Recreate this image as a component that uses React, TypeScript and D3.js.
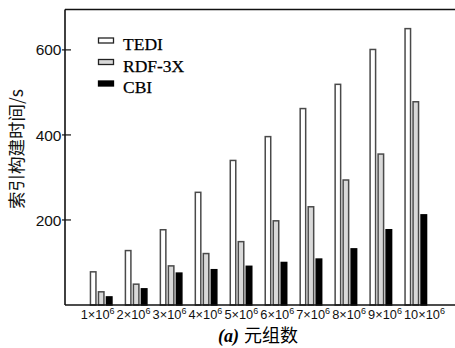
import React from "react";
import * as d3 from "d3";

const categories = ["1", "2", "3", "4", "5", "6", "7", "8", "9", "10"];
const seriesNames = ["TEDI", "RDF-3X", "CBI"];
const tedi = [78, 128, 177, 265, 340, 396, 462, 519, 601, 650];
const rdf3x = [31, 49, 92, 121, 149, 198, 231, 294, 355, 478];
const cbi = [19, 38, 75, 83, 91, 100, 108, 132, 177, 212];
const yTicks = [200, 400, 600];

const fills = ["#ffffff", "#d9d9d9", "#000000"];
const strokes = ["#4a4a4a", "#4a4a4a", "#000000"];

export default function App() {
  const W = 455;
  const H = 348;
  const left = 65;
  const right = 455;
  const top = 9.5;
  const bottom = 305;

  const y = d3.scaleLinear().domain([0, 695]).range([bottom, top]);
  const xc = d3.scaleLinear().domain([0, categories.length - 1]).range([101.2, 415.8]);
  const xl = d3.scaleLinear().domain([0, categories.length - 1]).range([80.7, 404]);
  const series = [tedi, rdf3x, cbi];
  const barW = 7;
  const pitch = 8;

  return (
    <svg width={W} height={H} style={{ position: "absolute", left: 0, top: 0, background: "#fff" }}>
      {series.map((vals, s) =>
        vals.map((v, i) => {
          const x0 = xc(i) - 11.5 + pitch * s;
          return (
            <rect
              key={`${s}-${i}`}
              x={x0 + 0.75}
              y={y(v)}
              width={barW - 1.5}
              height={y(0) - y(v)}
              fill={fills[s]}
              stroke={strokes[s]}
              strokeWidth={1.5}
            />
          );
        })
      )}
      <line x1={left} x2={right} y1={top} y2={top} stroke="#111" strokeWidth={1.6} />
      <line x1={left} x2={left} y1={top} y2={bottom} stroke="#111" strokeWidth={1.6} />
      <line x1={left} x2={right} y1={bottom} y2={bottom} stroke="#111" strokeWidth={1.6} />
      {yTicks.map((t) => (
        <g key={t}>
          <line x1={62} x2={71} y1={y(t)} y2={y(t)} stroke="#111" strokeWidth={1.2} />
          <text
            x={61.5}
            y={y(t)}
            dy="0.36em"
            textAnchor="end"
            fontFamily="Liberation Sans, Arial, sans-serif"
            fontSize={15.5}
            fill="#111"
          >
            {t}
          </text>
        </g>
      ))}
      {categories.map((c, i) => (
        <text
          key={c}
          x={xl(i)}
          y={318.5}
          fontFamily="Liberation Sans, Arial, sans-serif"
          fontSize={12.8}
          fill="#111"
        >
          {c}×10
          <tspan fontSize={9} dy={-4.5}>6</tspan>
        </text>
      ))}
      <text
        transform={`translate(23, 149) rotate(-90)`}
        textAnchor="middle"
        fontFamily="Noto Sans CJK SC, sans-serif"
        fontSize={17.5}
        fill="#111"
      >
        索引构建时间/s
      </text>
      <text x={258} y={342} textAnchor="middle" fontSize={18} fill="#000">
        <tspan fontFamily="Liberation Serif, Times New Roman, serif" fontWeight="bold" fontStyle="italic">(a)</tspan>
        <tspan fontFamily="Noto Sans CJK SC, sans-serif" dx={5}>元组数</tspan>
      </text>
      {seriesNames.map((n, s) => (
        <g key={n} transform={`translate(0, ${s * 21.5})`}>
          <rect x={98.5} y={38} width={15} height={5} fill={fills[s]} stroke={s === 2 ? "#000" : "#222"} strokeWidth={1.3} />
          <text x={123} y={50} fontFamily="Liberation Serif, Times New Roman, serif" fontSize={17.5} fill="#000" stroke="#000" strokeWidth={0.25}>
            {n}
          </text>
        </g>
      ))}
    </svg>
  );
}
